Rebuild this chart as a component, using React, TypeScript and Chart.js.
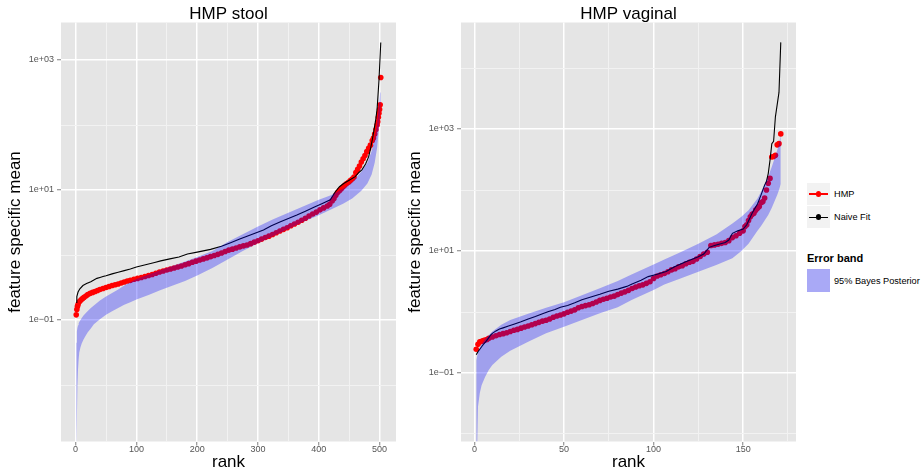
import React, { useEffect, useRef } from "react";
import { Chart, registerables } from "chart.js";

Chart.register(...registerables);

const FONT = "'Liberation Sans', Arial, Helvetica, sans-serif";

type Pair = [number, number];

// ---------------- HMP stool ----------------
const stoolHmp: Pair[] = [
  [1, 0.12], [2, 0.145], [3, 0.162], [4, 0.174], [6, 0.191], [8, 0.2], [10, 0.209], [12, 0.216], [14, 0.224], [17, 0.234],
  [20, 0.246], [24, 0.257], [28, 0.266], [32, 0.275], [36, 0.285], [40, 0.295], [45, 0.306], [50, 0.316], [55, 0.327], [60, 0.339],
  [65, 0.348], [70, 0.358], [75, 0.372], [80, 0.385], [85, 0.398], [90, 0.407], [96, 0.423], [102, 0.437], [108, 0.452], [114, 0.468],
  [120, 0.484], [126, 0.501], [132, 0.525], [138, 0.547], [144, 0.569], [150, 0.589], [156, 0.61], [162, 0.631], [168, 0.653], [174, 0.679],
  [180, 0.708], [186, 0.736], [192, 0.773], [198, 0.804], [204, 0.836], [210, 0.871], [216, 0.902], [222, 0.944], [228, 0.982], [234, 1.023],
  [240, 1.072], [246, 1.135], [252, 1.189], [258, 1.23], [264, 1.282], [270, 1.334], [276, 1.38], [282, 1.429], [288, 1.496], [294, 1.578],
  [300, 1.66], [306, 1.758], [312, 1.862], [318, 1.95], [324, 2.065], [330, 2.203], [336, 2.344], [342, 2.483], [348, 2.63], [354, 2.818],
  [360, 3.006], [366, 3.199], [372, 3.428], [378, 3.673], [384, 3.981], [390, 4.266], [396, 4.571], [402, 4.955], [408, 5.309], [414, 5.689],
  [418, 6.026], [422, 6.761], [425, 7.413], [428, 8.318], [431, 9.12], [434, 9.772], [437, 10.47], [440, 11.22], [443, 11.89], [446, 12.59],
  [449, 13.18], [452, 13.96], [455, 14.79], [458, 15.85], [461, 18.62], [464, 20.89], [467, 23.44], [470, 26.92], [473, 30.2], [476, 33.88],
  [479, 38.9], [482, 43.65], [485, 48.98], [488, 57.54], [490, 63.1], [492, 72.44], [494, 85.11], [496, 100], [497, 112.2], [498, 131.8],
  [499, 151.4], [500, 173.8], [501, 204.2], [502, 537.0],
];

const stoolNaive: Pair[] = [
  [1, 0.186], [2, 0.229], [4, 0.269], [7, 0.302], [12, 0.339], [18, 0.363], [25, 0.389], [30, 0.412], [35, 0.437], [40, 0.452],
  [45, 0.468], [50, 0.479], [60, 0.513], [70, 0.543], [80, 0.575], [90, 0.61], [100, 0.653], [115, 0.708], [130, 0.767], [140, 0.813],
  [155, 0.871], [170, 0.933], [184, 1.035], [200, 1.109], [222, 1.222], [240, 1.365], [255, 1.549], [270, 1.758], [282, 1.95], [295, 2.163],
  [309, 2.427], [322, 2.818], [337, 3.236], [350, 3.631], [364, 4.121], [378, 4.732], [392, 5.408], [405, 6.166], [419, 7.079], [427, 9.333],
  [434, 11.22], [441, 12.59], [450, 14.13], [460, 16.03], [466, 18.62], [471, 20.42], [477, 25.12], [482, 32.36], [485, 42.66], [488, 58.88],
  [491, 85.11], [494, 125.9], [496, 177.8], [499, 478.6], [502, 1862],
];

const stoolBandRank = [
  1, 2, 3, 4, 5, 6, 8, 10, 13, 16, 20, 25, 30, 40, 50, 60, 70, 80, 90, 100, 120, 140, 160, 180, 200, 225,
  250, 275, 300, 325, 350, 375, 400, 420, 440, 455, 470, 480, 487, 492, 496, 499, 501, 502,
];
const stoolBandLow = [
  0.001, 0.00282, 0.01, 0.0178, 0.0251, 0.0316, 0.038, 0.0437, 0.0501, 0.0562, 0.0646, 0.0741, 0.0861, 0.1023, 0.1202,
  0.1365, 0.1531, 0.1718, 0.1884, 0.2065, 0.2427, 0.2884, 0.3388, 0.3981, 0.4842, 0.631, 0.8511, 1.148, 1.514, 1.95,
  2.512, 3.236, 4.074, 5.012, 6.166, 7.413, 9.772, 12.59, 17.38, 26.3, 44.67, 89.13, 158.5, 223.9,
];
const stoolBandHigh = [
  0.0447, 0.0661, 0.0759, 0.0832, 0.0891, 0.0933, 0.1, 0.1072, 0.1175, 0.1259, 0.138, 0.1531, 0.1679, 0.1995, 0.2291,
  0.26, 0.2951, 0.3388, 0.3802, 0.4266, 0.5012, 0.5888, 0.6839, 0.7943, 0.9333, 1.148, 1.585, 2.089, 2.754, 3.548,
  4.467, 5.623, 7.079, 8.318, 10.47, 13.18, 19.05, 26.3, 39.81, 63.1, 104.7, 199.5, 316.2, 416.9,
];

const stoolXTicks = [0, 50, 100, 150, 200, 250, 300, 350, 400, 450, 500];
const stoolXLabels = ["0", "", "100", "", "200", "", "300", "", "400", "", "500"];
const stoolYTicks = [0.01, 0.1, 1, 10, 100, 1000];
const stoolYLabels = ["", "1e\u221201", "", "1e+01", "", "1e+03"];

// ---------------- HMP vaginal ----------------
const vagHmp: Pair[] = [
  [1, 0.2455], [2, 0.2951], [3, 0.3236], [4, 0.3311], [5, 0.3388], [6, 0.3467], [7, 0.3548], [8, 0.3715], [10, 0.389], [12, 0.4074],
  [14, 0.4266], [16, 0.4416], [18, 0.4571], [20, 0.4786], [22, 0.5012], [24, 0.5188], [26, 0.5433], [28, 0.5689], [30, 0.5888], [32, 0.6166],
  [34, 0.6457], [36, 0.6761], [38, 0.7079], [40, 0.7328], [42, 0.7674], [44, 0.8222], [46, 0.861], [48, 0.8913], [50, 0.9333], [52, 0.9886],
  [54, 1.035], [56, 1.084], [58, 1.175], [60, 1.23], [62, 1.274], [64, 1.318], [66, 1.38], [68, 1.462], [70, 1.549], [72, 1.622],
  [74, 1.679], [76, 1.758], [78, 1.82], [80, 1.928], [82, 2.042], [84, 2.138], [86, 2.265], [88, 2.427], [90, 2.57], [92, 2.692],
  [94, 2.786], [96, 2.951], [98, 3.141], [100, 3.548], [102, 3.89], [104, 4.074], [106, 4.266], [108, 4.571], [110, 4.898], [112, 5.129],
  [114, 5.495], [116, 5.754], [118, 6.166], [120, 6.531], [122, 6.761], [124, 7.413], [126, 8.128], [128, 8.913], [130, 9.55], [132, 12.3],
  [134, 12.59], [136, 12.88], [138, 13.34], [140, 13.8], [142, 14.79], [144, 16.6], [146, 17.78], [148, 19.5], [150, 21.38], [151, 25.12],
  [152, 26.92], [153, 31.62], [154, 36.31], [155, 39.81], [156, 41.69], [157, 46.77], [158, 50.12], [159, 53.7], [160, 61.66], [161, 64.57],
  [162, 74.13], [163, 100], [164, 128.8], [165, 154.9], [166, 346.7], [167, 354.8], [168, 371.5], [169, 549.5], [170, 575.4], [171, 831.8],
];

const vagNaive: Pair[] = [
  [1, 0.1995], [2, 0.2239], [3, 0.2455], [4, 0.2692], [5, 0.2951], [6, 0.3162], [7, 0.3467], [8, 0.3802], [9, 0.4169], [10, 0.4467],
  [12, 0.4898], [14, 0.5248], [16, 0.5495], [19, 0.5888], [22, 0.631], [26, 0.6918], [30, 0.7674], [34, 0.8414], [38, 0.9333], [41, 1.012],
  [45, 1.096], [48, 1.194], [52, 1.274], [56, 1.413], [60, 1.585], [65, 1.758], [70, 1.95], [75, 2.188], [80, 2.371], [85, 2.63],
  [88, 2.884], [93, 3.311], [97, 3.802], [102, 4.169], [107, 4.624], [112, 5.559], [118, 6.683], [125, 8.072], [128, 8.913], [131, 11.48],
  [134, 12.3], [137, 13.03], [140, 13.8], [142, 15.14], [144, 19.5], [147, 21.38], [150, 22.91], [152, 26.92], [155, 41.69], [157, 52.48],
  [158, 58.88], [160, 83.18], [162, 120.2], [163, 138.0], [164, 186.2], [165, 309.0], [166, 575.4], [167, 631.0], [168, 1585], [169, 2512],
  [170, 3981], [171, 26300],
];

const vagBandRank = [
  1, 2, 3, 4, 6, 8, 10, 15, 20, 30, 40, 50, 60, 70, 80, 88, 100, 106, 115, 125, 135, 144, 149, 153, 158, 160,
  164, 166, 168, 169, 170, 171,
];
const vagBandLow = [
  0.001, 0.0282, 0.0468, 0.0631, 0.0871, 0.1122, 0.1349, 0.1849, 0.2323, 0.3258, 0.4467, 0.5754, 0.7396, 0.9506, 1.194,
  1.585, 2.291, 2.818, 3.548, 4.571, 5.888, 7.586, 10.0, 13.18, 21.38, 25.7, 38.9, 51.29, 70.79, 83.18, 100, 125.9,
];
const vagBandHigh = [
  0.162, 0.219, 0.263, 0.295, 0.363, 0.417, 0.479, 0.617, 0.741, 0.933, 1.175, 1.445, 1.884, 2.455, 3.236, 4.169, 6.026,
  7.244, 9.55, 13.18, 18.62, 28.18, 36.31, 46.77, 72.44, 93.33, 166.0, 239.9, 363.1, 446.7, 562.3, 794.3,
];

const vagXTicks = [0, 25, 50, 75, 100, 125, 150, 175];
const vagXLabels = ["0", "", "50", "", "100", "", "150", ""];
const vagYTicks = [0.01, 0.1, 1, 10, 100, 1000, 10000];
const vagYLabels = ["", "1e\u221201", "", "1e+01", "", "1e+03", ""];

// ---------------- chart building ----------------
interface PanelSpec {
  title: string;
  hmp: Pair[];
  naive: Pair[];
  bandRank: number[];
  bandLow: number[];
  bandHigh: number[];
  xMin: number;
  xMax: number;
  yMin: number;
  yMax: number;
  xTicks: number[];
  xLabels: string[];
  yTicks: number[];
  yLabels: string[];
  padRight: number;
}

const stoolSpec: PanelSpec = {
  title: "HMP stool",
  hmp: stoolHmp,
  naive: stoolNaive,
  bandRank: stoolBandRank,
  bandLow: stoolBandLow,
  bandHigh: stoolBandHigh,
  xMin: -24.05,
  xMax: 527.05,
  yMin: 0.001352,
  yMax: 3776,
  xTicks: stoolXTicks,
  xLabels: stoolXLabels,
  yTicks: stoolYTicks,
  yLabels: stoolYLabels,
  padRight: 3,
};

const vagSpec: PanelSpec = {
  title: "HMP vaginal",
  hmp: vagHmp,
  naive: vagNaive,
  bandRank: vagBandRank,
  bandLow: vagBandLow,
  bandHigh: vagBandHigh,
  xMin: -7.5,
  xMax: 179.5,
  yMin: 0.007534,
  yMax: 55719,
  xTicks: vagXTicks,
  xLabels: vagXLabels,
  yTicks: vagYTicks,
  yLabels: vagYLabels,
  padRight: 4,
};

const panelBg = {
  id: "panelBg",
  beforeDraw(chart: any) {
    const { ctx, chartArea: a } = chart;
    ctx.save();
    ctx.fillStyle = "#E5E5E5";
    ctx.fillRect(a.left, a.top, a.right - a.left, a.bottom - a.top);
    ctx.restore();
  },
};

function buildConfig(p: PanelSpec): any {
  const pairsXY = (pairs: Pair[]) => pairs.map(([x, y]) => ({ x, y }));
  const band = (vals: number[]) => p.bandRank.map((x, i) => ({ x, y: vals[i] }));
  const gridFor = (labels: string[]) => ({
    color: (c: any) => (labels[c.index] ? "#FFFFFF" : "#F2F2F2"),
    lineWidth: (c: any) => (labels[c.index] ? 1.5 : 1),
    tickColor: (c: any) => (labels[c.index] ? "#7F7F7F" : "rgba(0,0,0,0)"),
    tickWidth: 1,
    tickLength: 4,
    drawTicks: true,
    drawOnChartArea: true,
  });
  return {
    type: "line",
    data: {
      datasets: [
        {
          label: "HMP",
          data: pairsXY(p.hmp),
          showLine: false,
          pointRadius: 2.8,
          pointBackgroundColor: "#FF0000",
          pointBorderColor: "#FF0000",
          pointBorderWidth: 0,
          order: 4,
        },
        {
          label: "Naive Fit",
          data: pairsXY(p.naive),
          showLine: true,
          borderColor: "#000000",
          borderWidth: 1.1,
          pointRadius: 0,
          fill: false,
          order: 3,
        },
        {
          label: "lower",
          data: band(p.bandLow),
          showLine: true,
          borderColor: "rgba(0,0,0,0)",
          borderWidth: 0,
          pointRadius: 0,
          fill: false,
          order: 2,
        },
        {
          label: "95% Bayes Posterior",
          data: band(p.bandHigh),
          showLine: true,
          borderColor: "rgba(0,0,0,0)",
          borderWidth: 0,
          pointRadius: 0,
          fill: "-1",
          backgroundColor: "rgba(0,0,255,0.3)",
          order: 1,
        },
      ],
    },
    options: {
      animation: false,
      responsive: false,
      devicePixelRatio: 1,
      events: [],
      layout: { padding: { left: 0, right: p.padRight, top: 0, bottom: 0 } },
      plugins: {
        legend: { display: false },
        tooltip: { enabled: false },
        title: {
          display: true,
          text: p.title,
          fullSize: false,
          align: "center",
          color: "#000000",
          font: { family: FONT, size: 17, weight: "normal", lineHeight: 1 },
          padding: { top: 5.5, bottom: 0 },
        },
      },
      scales: {
        x: {
          type: "linear",
          min: p.xMin,
          max: p.xMax,
          bounds: "data",
          afterBuildTicks: (s: any) => {
            s.ticks = p.xTicks.map((v) => ({ value: v }));
          },
          afterFit: (s: any) => {
            s.height = 32.5;
          },
          ticks: {
            autoSkip: false,
            maxRotation: 0,
            padding: 0,
            color: "#555555",
            font: { family: FONT, size: 9, lineHeight: 1 },
            callback: (_v: any, i: number) => p.xLabels[i] ?? "",
          },
          grid: gridFor(p.xLabels),
          border: { display: false },
          title: {
            display: true,
            text: "rank",
            color: "#000000",
            font: { family: FONT, size: 17, lineHeight: 1.2 },
            padding: { top: 0, bottom: 1.5 },
          },
        },
        y: {
          type: "logarithmic",
          min: p.yMin,
          max: p.yMax,
          bounds: "data",
          afterBuildTicks: (s: any) => {
            s.ticks = p.yTicks.map((v) => ({ value: v }));
          },
          afterFit: (s: any) => {
            s.width = 61;
          },
          ticks: {
            autoSkip: false,
            padding: 3,
            color: "#555555",
            font: { family: FONT, size: 9, lineHeight: 1 },
            callback: (_v: any, i: number) => p.yLabels[i] ?? "",
          },
          grid: gridFor(p.yLabels),
          border: { display: false },
          title: {
            display: true,
            text: "feature specific mean",
            color: "#000000",
            font: { family: FONT, size: 17, lineHeight: 1.2 },
            padding: { top: 5.6, bottom: 0 },
          },
        },
      },
    },
    plugins: [panelBg],
  };
}

function Panel({ spec, left }: { spec: PanelSpec; left: number }) {
  const ref = useRef<HTMLCanvasElement>(null);
  useEffect(() => {
    const chart = new Chart(ref.current as HTMLCanvasElement, buildConfig(spec));
    return () => chart.destroy();
  }, [spec]);
  return (
    <canvas
      ref={ref}
      width={400}
      height={474}
      style={{ position: "absolute", left, top: 0, width: 400, height: 474 }}
    />
  );
}

function LegendKey({ top, color }: { top: number; color: string }) {
  return (
    <div style={{ position: "absolute", left: 807, top, width: 23, height: 22, background: "#F2F2F2" }}>
      <div style={{ position: "absolute", left: 2, top: 10.25, width: 19, height: 1.5, background: color }} />
      <div
        style={{
          position: "absolute",
          left: 8.6,
          top: 8.1,
          width: 5.8,
          height: 5.8,
          borderRadius: "50%",
          background: color,
        }}
      />
    </div>
  );
}

function Legend() {
  const txt = (left: number, center: number, text: string, size: number, bold = false) => (
    <div
      style={{
        position: "absolute",
        left,
        top: center - 6,
        height: 12,
        lineHeight: "12px",
        fontSize: size,
        fontWeight: bold ? "bold" : "normal",
        whiteSpace: "nowrap",
        color: "#000",
        fontFamily: FONT,
      }}
    >
      {text}
    </div>
  );
  return (
    <>
      <LegendKey top={183} color="#FF0000" />
      <LegendKey top={206.3} color="#000000" />
      {txt(834, 194, "HMP", 9.2)}
      {txt(834, 217.3, "Naive Fit", 9.2)}
      {txt(807, 258.3, "Error band", 11, true)}
      <div style={{ position: "absolute", left: 807, top: 269, width: 23.4, height: 23.3, background: "#F2F2F2" }}>
        <div style={{ position: "absolute", inset: 0, background: "rgba(0,0,255,0.3)" }} />
      </div>
      {txt(834, 280.7, "95% Bayes Posterior", 9.2)}
    </>
  );
}

export default function App() {
  return (
    <div
      style={{
        position: "absolute",
        left: 0,
        top: 0,
        width: 922,
        height: 474,
        background: "#FFFFFF",
        overflow: "hidden",
        fontFamily: FONT,
      }}
    >
      <Panel spec={stoolSpec} left={0} />
      <Panel spec={vagSpec} left={400} />
      <Legend />
    </div>
  );
}
